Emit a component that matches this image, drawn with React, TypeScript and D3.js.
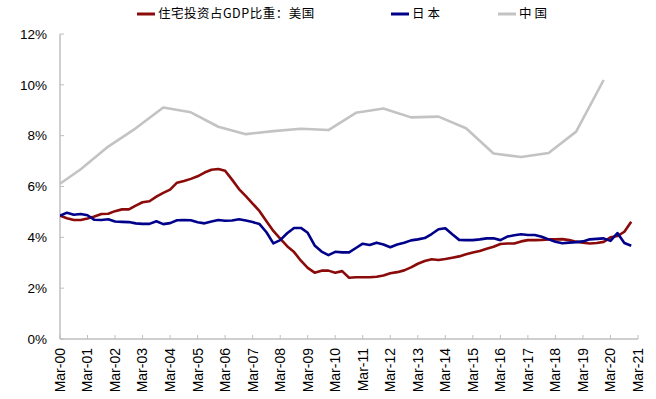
import * as d3 from "d3";

// quarterly series, Mar-00 .. Dec-20 (%)
const usShare = [
  4.85, 4.75, 4.68, 4.68, 4.74, 4.82, 4.92, 4.93, 5.03, 5.1, 5.1, 5.25,
  5.38, 5.42, 5.6, 5.75, 5.88, 6.15, 6.22, 6.3, 6.4, 6.55, 6.66, 6.69,
  6.62, 6.27, 5.9, 5.62, 5.33, 5.03, 4.63, 4.25, 3.95, 3.65, 3.42, 3.08,
  2.8, 2.61, 2.69, 2.69, 2.61, 2.67, 2.41, 2.43, 2.43, 2.43, 2.45, 2.5,
  2.59, 2.63, 2.7, 2.82, 2.96, 3.07, 3.14, 3.11, 3.15, 3.2, 3.25, 3.33,
  3.4, 3.46, 3.55, 3.63, 3.74, 3.76, 3.76, 3.84, 3.89, 3.89, 3.9, 3.92,
  3.92, 3.93, 3.89, 3.83, 3.79, 3.76, 3.78, 3.82, 4.0, 4.05, 4.22, 4.61,
];
const japanShare = [
  4.85, 4.97, 4.89, 4.92, 4.87, 4.69, 4.68, 4.71, 4.62, 4.61, 4.6, 4.55,
  4.53, 4.53, 4.63, 4.52, 4.56, 4.67, 4.68, 4.67, 4.59, 4.55, 4.62, 4.68,
  4.65, 4.66, 4.71, 4.66, 4.6, 4.52, 4.2, 3.76, 3.89, 4.16, 4.37, 4.37,
  4.18, 3.68, 3.44, 3.3, 3.43, 3.41, 3.41, 3.58, 3.75, 3.7, 3.79, 3.72,
  3.61, 3.72, 3.79, 3.88, 3.92, 3.97, 4.13, 4.32, 4.36, 4.12, 3.9, 3.89,
  3.89, 3.92, 3.96, 3.96, 3.89, 4.03, 4.08, 4.12, 4.09, 4.09, 4.02, 3.92,
  3.83, 3.77, 3.79, 3.81, 3.84, 3.92, 3.94, 3.96, 3.86, 4.17, 3.78, 3.67,
];
// annual, dated December
const chinaYears = [
  1999, 2000, 2001, 2002, 2003, 2004, 2005, 2006, 2007, 2008, 2009,
  2010, 2011, 2012, 2013, 2014, 2015, 2016, 2017, 2018, 2019,
];
const chinaShare = [
  5.92, 6.68, 7.57, 8.29, 9.11, 8.92, 8.35, 8.06, 8.18, 8.27, 8.22,
  8.9, 9.07, 8.72, 8.75, 8.29, 7.3, 7.16, 7.32, 8.16, 10.19,
];
const tickYears = d3.range(2000, 2022);
const yTicks = [0, 2, 4, 6, 8, 10, 12];

const legendItems = [
  { name: "住宅投资占GDP比重：美国", color: "#8B0A0A", x: 137 },
  { name: "日本", color: "#00008B", x: 391 },
  { name: "中国", color: "#C3C3C3", x: 498 },
];

const W = 656;
const H = 399;
const left = 60;
const right = 638;
const top = 34;
const bottom = 339;
const axisColor = "#BFBFBF";

export default function App() {
  const quarterDates = usShare.map((_, i) => new Date(2000, 2 + 3 * i, 1));
  const chinaDates = chinaYears.map((y) => new Date(y, 11, 1));
  const tickDates = tickYears.map((y) => new Date(y, 2, 1));

  const x = d3
    .scaleTime()
    .domain([new Date(2000, 2, 1), new Date(2021, 2, 1)])
    .range([left, right]);
  const y = d3.scaleLinear().domain([0, 12]).range([bottom, top]);
  const fmt = d3.timeFormat("%b-%y");

  const line = d3
    .line<[Date, number]>()
    .x((d) => x(d[0]))
    .y((d) => y(d[1]));

  const usPath = line(quarterDates.map((d, i) => [d, usShare[i]]));
  const jpPath = line(quarterDates.map((d, i) => [d, japanShare[i]]));
  const cnPath = line(chinaDates.map((d, i) => [d, chinaShare[i]]));

  const font = "Arial, 'Liberation Sans', sans-serif";
  const cjk = "'Noto Sans CJK SC', 'Noto Sans', sans-serif";

  return (
    <svg
      width={W}
      height={H}
      style={{ position: "absolute", left: 0, top: 0, background: "#fff" }}
    >
      <defs>
        <clipPath id="plot">
          <rect x={left} y={0} width={right - left + 10} height={bottom} />
        </clipPath>
      </defs>

      {/* legend */}
      {legendItems.map((it) => (
        <g key={it.name}>
          <line
            x1={it.x}
            x2={it.x + 18}
            y1={14}
            y2={14}
            stroke={it.color}
            strokeWidth={3}
          />
          <text
            x={it.x + 21}
            y={14}
            dy="0.35em"
            fontSize={12.5}
            fontFamily={cjk}
            letterSpacing={it.name.length === 2 ? 3 : 0.5}
            fill="#000"
          >
            {it.name}
          </text>
        </g>
      ))}

      {/* axes */}
      <line x1={left} x2={left} y1={top} y2={bottom} stroke={axisColor} strokeWidth={1.5} />
      <line x1={left} x2={right} y1={bottom} y2={bottom} stroke={axisColor} strokeWidth={1.5} />
      {yTicks.map((t) => (
        <g key={t}>
          <line x1={left} x2={left + 4} y1={y(t)} y2={y(t)} stroke={axisColor} strokeWidth={1} />
          <text
            x={47}
            y={y(t)}
            dy="0.35em"
            textAnchor="end"
            fontSize={13.5}
            fontFamily={font}
            fill="#000"
          >
            {t}%
          </text>
        </g>
      ))}
      {tickDates.map((d) => (
        <g key={d.getTime()}>
          <line x1={x(d)} x2={x(d)} y1={bottom} y2={bottom - 4} stroke={axisColor} strokeWidth={1} />
          <text
            transform={`translate(${x(d)},348) rotate(-90)`}
            dy="0.35em"
            textAnchor="end"
            fontSize={14}
            fontFamily={font}
            fill="#000"
          >
            {fmt(d)}
          </text>
        </g>
      ))}

      {/* series */}
      <g clipPath="url(#plot)" fill="none" strokeWidth={2.6} strokeLinejoin="round">
        <path d={cnPath ?? ""} stroke="#C3C3C3" />
        <path d={usPath ?? ""} stroke="#8B0A0A" />
        <path d={jpPath ?? ""} stroke="#00008B" />
      </g>
    </svg>
  );
}
